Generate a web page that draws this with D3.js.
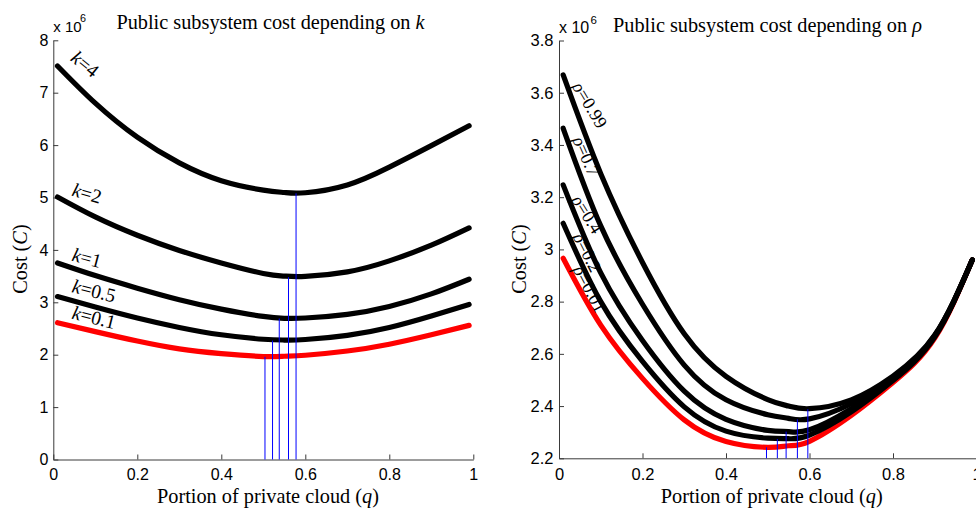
<!DOCTYPE html>
<html><head><meta charset="utf-8">
<script src="https://cdn.jsdelivr.net/npm/d3@7"></script>
<style>
body{margin:0;background:#fff;}
svg{display:block;}
</style></head><body>
<svg id="c" width="976" height="509"></svg>
<script>
// ---------- data ----------
const qGrid = [0.01, 0.1, 0.2, 0.3, 0.4, 0.5, 0.55, 0.6, 0.7, 0.8, 0.9, 0.99];

// left panel: cost (x 10^6) for several k
const kNames  = ["4", "2", "1", "0.5", "0.1"];
const costK4  = [7.51, 6.80, 6.15, 5.66, 5.32, 5.14, 5.095, 5.09, 5.24, 5.58, 5.99, 6.37];
const costK2  = [5.01, 4.63, 4.28, 3.99, 3.75, 3.55, 3.50, 3.495, 3.58, 3.79, 4.09, 4.42];
const costK1  = [3.75, 3.51, 3.27, 3.05, 2.87, 2.73, 2.695, 2.70, 2.77, 2.92, 3.16, 3.44];
const costK05 = [3.11, 2.91, 2.70, 2.52, 2.38, 2.295, 2.28, 2.29, 2.37, 2.52, 2.74, 2.96];
const costK01 = [2.61, 2.44, 2.26, 2.11, 2.02, 1.965, 1.97, 1.99, 2.07, 2.20, 2.38, 2.56];
const minQLeft = [0.504, 0.522, 0.538, 0.560, 0.578];
const minCLeft = [1.96, 2.27, 2.69, 3.48, 5.08];

// right panel: cost (x 10^6) for several rho
const rhoNames   = ["0.99", "0.7", "0.4", "0.2", "0.01"];
const costRho099 = [3.668, 3.29, 2.950, 2.677, 2.514, 2.425, 2.400, 2.390, 2.424, 2.515, 2.672, 2.96];
const costRho07  = [3.464, 3.09, 2.790, 2.557, 2.424, 2.367, 2.353, 2.351, 2.409, 2.510, 2.670, 2.96];
const costRho04  = [3.247, 2.91, 2.651, 2.457, 2.349, 2.307, 2.302, 2.309, 2.390, 2.503, 2.667, 2.96];
const costRho02  = [3.100, 2.80, 2.571, 2.397, 2.304, 2.277, 2.275, 2.289, 2.378, 2.498, 2.665, 2.96];
const costRho001 = [2.966, 2.71, 2.506, 2.347, 2.264, 2.242, 2.248, 2.265, 2.364, 2.490, 2.660, 2.96];
const minQRight = [0.497, 0.523, 0.544, 0.571, 0.596];
const minCRight = [2.242, 2.274, 2.302, 2.349, 2.388];

// ticks
const xTicks      = [0, 0.2, 0.4, 0.6, 0.8, 1];
const leftYTicks  = [0, 1, 2, 3, 4, 5, 6, 7, 8];
const rightYTicks = [2.2, 2.4, 2.6, 2.8, 3.0, 3.2, 3.4, 3.6, 3.8];

// ---------- drawing ----------
const svg = d3.select("#c");
const SERIF = "'Liberation Serif','Times New Roman',serif";
const SANS  = "'Liberation Sans',Arial,Helvetica,sans-serif";
const fmt = d => String(+(+d).toFixed(1));

function panel(cfg) {
  const x = d3.scaleLinear().domain([0, 1]).range([cfg.x0, cfg.x1]);
  const y = d3.scaleLinear().domain(cfg.yDomain).range([cfg.yB, cfg.yT]);
  const g = svg.append("g");

  // axes
  const ax = g.append("g").attr("transform", `translate(0,${cfg.yB})`)
    .call(d3.axisBottom(x).tickValues(xTicks).tickFormat(fmt)
      .tickSizeInner(-5).tickSizeOuter(0).tickPadding(cfg.xPad));
  const ay = g.append("g").attr("transform", `translate(${cfg.x0},0)`)
    .call(d3.axisLeft(y).tickValues(cfg.yTicks).tickFormat(fmt)
      .tickSizeInner(-5).tickSizeOuter(0).tickPadding(cfg.yPad));
  [ax, ay].forEach(a => {
    a.selectAll("path,line").attr("stroke", "#3a3a3a").attr("stroke-width", 1);
    a.selectAll("text").attr("font-family", SANS).attr("font-size", cfg.tickFs).attr("fill", "#000");
  });

  // curves
  const line = d3.line().x((d, i) => x(qGrid[i])).y(d => y(d)).curve(d3.curveNatural);
  cfg.series.forEach(s => {
    g.append("path").datum(s.v).attr("d", line).attr("fill", "none")
      .attr("stroke", s.c).attr("stroke-width", 5.2)
      .attr("stroke-linecap", "round").attr("stroke-linejoin", "round");
  });

  // vertical lines at the minima
  cfg.minQ.forEach((q, i) => {
    g.append("line").attr("x1", x(q)).attr("x2", x(q))
      .attr("y1", y(cfg.yDomain[0])).attr("y2", y(cfg.minC[i]))
      .attr("stroke", "#0000ff").attr("stroke-width", 1);
  });

  // curve labels
  cfg.labels.forEach(l => {
    const t = g.append("text").attr("transform", `translate(${l.x},${l.y}) rotate(${l.a})`)
      .attr("font-family", SERIF).attr("font-size", cfg.labFs);
    t.append("tspan").attr("font-style", "italic").text(cfg.sym);
    t.append("tspan").text("=" + l.t);
  });

  // title
  const tt = g.append("text").attr("x", cfg.titleX).attr("y", cfg.titleY)
    .attr("text-anchor", "middle").attr("font-family", SERIF).attr("font-size", 20.3);
  tt.append("tspan").text("Public subsystem cost depending on ");
  tt.append("tspan").attr("font-style", "italic").text(cfg.sym);

  // multiplier
  g.append("text").attr("x", cfg.x0).attr("y", cfg.multY).attr("font-family", SANS)
    .attr("font-size", cfg.multFs).text("x 10");
  g.append("text").attr("x", cfg.supX).attr("y", cfg.supY).attr("font-family", SANS)
    .attr("font-size", cfg.multFs * 0.72).text("6");

  // x label
  const xl = g.append("text").attr("x", cfg.xlabX).attr("y", 502.5).attr("text-anchor", "middle")
    .attr("font-family", SERIF).attr("font-size", 20.3);
  xl.append("tspan").text("Portion of private cloud (");
  xl.append("tspan").attr("font-style", "italic").text("q");
  xl.append("tspan").text(")");

  // y label
  const yl = g.append("text").attr("transform", `translate(${cfg.ylabX},${cfg.ylabY}) rotate(-90)`)
    .attr("text-anchor", "middle").attr("font-family", SERIF).attr("font-size", 20.3);
  yl.append("tspan").text("Cost (");
  yl.append("tspan").attr("font-style", "italic").text("C");
  yl.append("tspan").text(")");
}

panel({
  x0: 53.3, x1: 473.3, yB: 459.5, yT: 40.3, yDomain: [0, 8], yTicks: leftYTicks,
  tickFs: 16, xPad: 9.5, yPad: 5, labFs: 19.5,
  series: [
    {v: costK4, c: "#000"}, {v: costK2, c: "#000"}, {v: costK1, c: "#000"},
    {v: costK05, c: "#000"}, {v: costK01, c: "#ff0000"}
  ],
  minQ: minQLeft, minC: minCLeft, sym: "k",
  labels: [
    {t: kNames[0], x: 69.5, y: 60, a: 39},
    {t: kNames[1], x: 71, y: 195.5, a: 16},
    {t: kNames[2], x: 71, y: 260.5, a: 15},
    {t: kNames[3], x: 71, y: 292, a: 14},
    {t: kNames[4], x: 71, y: 318.5, a: 14}
  ],
  titleX: 270.5, titleY: 28.5, multY: 31.5, multFs: 15, supX: 80, supY: 21.5,
  xlabX: 268, ylabX: 27, ylabY: 259
});

panel({
  x0: 559, x1: 976.5, yB: 458.3, yT: 40.5, yDomain: [2.2, 3.8], yTicks: rightYTicks,
  tickFs: 16.5, xPad: 9.5, yPad: 5.5, labFs: 18,
  series: [
    {v: costRho001, c: "#ff0000"}, {v: costRho02, c: "#000"}, {v: costRho04, c: "#000"},
    {v: costRho07, c: "#000"}, {v: costRho099, c: "#000"}
  ],
  minQ: minQRight, minC: minCRight, sym: "ρ",
  labels: [
    {t: rhoNames[0], x: 571.8, y: 86.5, a: 59},
    {t: rhoNames[1], x: 572.2, y: 139.7, a: 66},
    {t: rhoNames[2], x: 571.1, y: 200, a: 58},
    {t: rhoNames[3], x: 572.4, y: 236.8, a: 63},
    {t: rhoNames[4], x: 572.4, y: 269.6, a: 62}
  ],
  titleX: 767.5, titleY: 31.5, multY: 32.5, multFs: 16, supX: 590.5, supY: 23.5,
  xlabX: 771.7, ylabX: 526, ylabY: 259
});
</script>
</body></html>
